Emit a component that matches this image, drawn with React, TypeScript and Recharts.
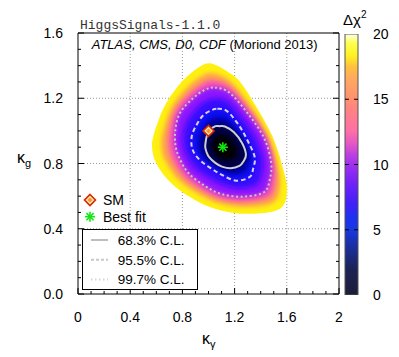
import React from "react";
import {
  ScatterChart,
  Scatter,
  XAxis,
  YAxis,
  CartesianGrid,
  Legend,
  ComposedChart,
  Bar,
} from "recharts";

type P = { x: number; y: number };
const pts = (a: number[][]): P[] => a.map(([x, y]) => ({ x, y }));

// level lines of the delta chi^2 map (kappa_gamma, kappa_g)
const chi20 = pts([
  [1.027, 1.412], [1.18, 1.345], [1.264, 1.277], [1.356, 1.161], [1.487, 0.971], [1.563, 0.793],
  [1.602, 0.639], [1.548, 0.523], [1.318, 0.492], [1.103, 0.511], [0.92, 0.566], [0.728, 0.67],
  [0.605, 0.793], [0.567, 0.915], [0.613, 1.056], [0.682, 1.179], [0.797, 1.302], [0.92, 1.387],
]);
const chi18 = pts([
  [1.036, 1.353], [1.172, 1.3], [1.335, 1.139], [1.462, 0.966], [1.53, 0.8], [1.549, 0.666],
  [1.499, 0.563], [1.297, 0.534], [1.103, 0.551], [0.941, 0.605], [0.775, 0.698], [0.675, 0.807],
  [0.639, 0.914], [0.667, 1.039], [0.723, 1.152], [0.829, 1.26], [0.939, 1.332],
]);
const chi15 = pts([
  [1.043, 1.309], [1.167, 1.267], [1.319, 1.122], [1.444, 0.962], [1.504, 0.806], [1.51, 0.687],
  [1.462, 0.594], [1.28, 0.565], [1.103, 0.581], [0.957, 0.633], [0.811, 0.719], [0.727, 0.819],
  [0.693, 0.913], [0.707, 1.026], [0.752, 1.132], [0.854, 1.229], [0.955, 1.291],
]);
// 99.7% C.L.
const cl997 = pts([
  [1.05, 1.265], [1.161, 1.234], [1.303, 1.105], [1.425, 0.958], [1.479, 0.811], [1.471, 0.707],
  [1.425, 0.624], [1.264, 0.597], [1.103, 0.612], [0.973, 0.662], [0.847, 0.741], [0.779, 0.83],
  [0.747, 0.912], [0.747, 1.013], [0.783, 1.112], [0.877, 1.197], [0.969, 1.25],
]);
const chi9 = pts([
  [1.059, 1.2], [1.152, 1.177], [1.268, 1.069], [1.364, 0.947], [1.417, 0.825], [1.408, 0.739],
  [1.37, 0.671], [1.238, 0.646], [1.103, 0.671], [1.002, 0.714], [0.901, 0.773], [0.839, 0.842],
  [0.809, 0.91], [0.81, 0.993], [0.844, 1.071], [0.917, 1.145], [0.994, 1.187],
]);
// 95.5% C.L.
const cl955 = pts([
  [1.068, 1.136], [1.142, 1.121], [1.234, 1.033], [1.303, 0.935], [1.354, 0.84], [1.343, 0.771],
  [1.315, 0.717], [1.211, 0.695], [1.103, 0.73], [1.03, 0.765], [0.955, 0.806], [0.898, 0.854],
  [0.871, 0.907], [0.873, 0.972], [0.904, 1.03], [0.956, 1.093], [1.018, 1.125],
]);
const chi4 = pts([
  [1.076, 1.082], [1.134, 1.074], [1.215, 1.012], [1.28, 0.931], [1.321, 0.847], [1.306, 0.792],
  [1.276, 0.751], [1.191, 0.733], [1.103, 0.755], [1.041, 0.785], [0.98, 0.822], [0.941, 0.863],
  [0.923, 0.904], [0.926, 0.955], [0.947, 1.001], [0.987, 1.052], [1.036, 1.077],
]);
// 68.3% C.L.
const cl683 = pts([
  [1.084, 1.029], [1.126, 1.027], [1.195, 0.992], [1.257, 0.926], [1.287, 0.855], [1.267, 0.812],
  [1.237, 0.785], [1.17, 0.771], [1.103, 0.781], [1.052, 0.804], [1.005, 0.839], [0.984, 0.872],
  [0.975, 0.901], [0.979, 0.937], [0.989, 0.973], [1.018, 1.01], [1.054, 1.029],
]);
const chi1 = pts([
  [1.094, 0.976], [1.12, 0.975], [1.161, 0.954], [1.198, 0.915], [1.217, 0.872], [1.205, 0.846],
  [1.186, 0.83], [1.146, 0.821], [1.107, 0.827], [1.076, 0.841], [1.048, 0.862], [1.034, 0.882],
  [1.029, 0.899], [1.032, 0.922], [1.038, 0.942], [1.055, 0.965], [1.077, 0.976],
]);

const smPoint = pts([[1.0, 1.0]]);
const bestFit = pts([[1.11, 0.9]]);

const xTicks = [0, 0.1, 0.2, 0.3, 0.4, 0.5, 0.6, 0.7, 0.8, 0.9, 1, 1.1, 1.2, 1.3, 1.4, 1.5, 1.6, 1.7, 1.8, 1.9, 2];
const yTicks = [0, 0.1, 0.2, 0.3, 0.4, 0.5, 0.6, 0.7, 0.8, 0.9, 1, 1.1, 1.2, 1.3, 1.4, 1.5, 1.6];
const xGrid = [0.4, 0.8, 1.2, 1.6];
const yGrid = [0.4, 0.8, 1.2];
const cbTicks = [0, 5, 10, 15, 20];
const cbRange = [{ name: "dchi2", top: 20 }];
const clLabels = ["68.3% C.L.", "95.5% C.L.", "99.7% C.L."];

// colour bar palette (delta chi^2, colour)
const cbStops: [number, string][] = [
  [0, "#1e1e38"], [2, "#1c2256"], [3, "#1a2a80"], [4, "#1a30b0"], [5, "#1638e0"],
  [6, "#2030f0"], [7, "#4020f8"], [8.5, "#7020f8"], [10, "#a030f0"], [10.8, "#c040e0"],
  [11.6, "#e458c4"], [12.6, "#ff70a4"], [14, "#ff8088"], [15, "#ff9070"], [16.5, "#ffa860"],
  [17.5, "#ffc040"], [18.3, "#fff020"], [19.3, "#ffff50"], [20, "#ffffe6"],
];

// filled regions, outermost first
const bands = [
  { id: "b20", data: chi20, fill: "#fff010" },
  { id: "b18", data: chi18, fill: "#ffa050" },
  { id: "b15", data: chi15, fill: "#f452b6" },
  { id: "b12", data: cl997, fill: "#8c14ff" },
  { id: "b9", data: chi9, fill: "#3a0cff" },
  { id: "b6", data: cl955, fill: "#0808f2" },
  { id: "b4", data: chi4, fill: "#0000a0" },
  { id: "b2", data: cl683, fill: "#000040" },
  { id: "b1", data: chi1, fill: "#000006" },
];

const FONT = "'Liberation Sans', Arial, sans-serif";

const isMajor = (v: number) => Math.abs(v * 2.5 - Math.round(v * 2.5)) < 1e-6;

function closedPath(p: P[]) {
  const n = p.length;
  let d = `M${p[0].x},${p[0].y}`;
  for (let i = 0; i < n; i++) {
    const p0 = p[(i - 1 + n) % n];
    const p1 = p[i];
    const p2 = p[(i + 1) % n];
    const p3 = p[(i + 2) % n];
    const c1x = p1.x + (p2.x - p0.x) / 6;
    const c1y = p1.y + (p2.y - p0.y) / 6;
    const c2x = p2.x - (p3.x - p1.x) / 6;
    const c2y = p2.y - (p3.y - p1.y) / 6;
    d += `C${c1x},${c1y} ${c2x},${c2y} ${p2.x},${p2.y}`;
  }
  return d + "Z";
}

const noDot = () => <g />;

const BottomTick = ({ x, y, payload }: any) => {
  const v = payload.value;
  const major = isMajor(v);
  return (
    <g>
      <line x1={x} y1={y} x2={x} y2={y - (major ? 6 : 3)} stroke="#000" />
      {major && (
        <text x={x} y={y + 28} textAnchor="middle" fontSize={14} fill="#000">
          {String(Number(v.toFixed(1)))}
        </text>
      )}
    </g>
  );
};

const LeftTick = ({ x, y, payload }: any) => {
  const v = payload.value;
  const major = isMajor(v);
  return (
    <g>
      <line x1={x} y1={y} x2={x + (major ? 6 : 3)} y2={y} stroke="#000" />
      {major && (
        <text x={x - 15} y={y + 5} textAnchor="end" fontSize={14} fill="#000">
          {v.toFixed(1)}
        </text>
      )}
    </g>
  );
};

const TopTick = ({ x, y, payload }: any) => (
  <line x1={x} y1={y} x2={x} y2={y + (isMajor(payload.value) ? 6 : 3)} stroke="#000" />
);

const RightTick = ({ x, y, payload }: any) => (
  <line x1={x} y1={y} x2={x - (isMajor(payload.value) ? 6 : 3)} y2={y} stroke="#000" />
);

const CbRightTick = ({ x, y, payload }: any) => {
  const v = payload.value;
  const inner = v > 0 && v < 20;
  return (
    <g>
      {inner && <line x1={x} y1={y} x2={x - 4} y2={y} stroke="#000" />}
      <text x={x + 15} y={y + 5} fontSize={14} fill="#000">
        {v}
      </text>
    </g>
  );
};

const CbLeftTick = ({ x, y, payload }: any) => {
  const v = payload.value;
  if (v <= 0 || v >= 20) return <g />;
  return <line x1={x} y1={y} x2={x + 4} y2={y} stroke="#000" />;
};

const SmMark = ({ cx, cy }: any) => (
  <g>
    <path
      d={`M${cx},${cy - 5.5}L${cx + 5.5},${cy}L${cx},${cy + 5.5}L${cx - 5.5},${cy}Z`}
      fill="#ffe6b0"
      stroke="#d42800"
      strokeWidth={1.6}
    />
    <path
      d={`M${cx},${cy - 2.5}L${cx + 2.5},${cy}L${cx},${cy + 2.5}L${cx - 2.5},${cy}Z`}
      fill="#ff9428"
    />
  </g>
);

const StarMark = ({ cx, cy }: any) => (
  <g stroke="#12e812" strokeWidth={1.6}>
    <line x1={cx - 5} y1={cy} x2={cx + 5} y2={cy} />
    <line x1={cx} y1={cy - 5} x2={cx} y2={cy + 5} />
    <line x1={cx - 3.6} y1={cy - 3.6} x2={cx + 3.6} y2={cy + 3.6} />
    <line x1={cx - 3.6} y1={cy + 3.6} x2={cx + 3.6} y2={cy - 3.6} />
  </g>
);

const clStyles = [
  { stroke: "#bdbdbd", dash: undefined },
  { stroke: "#c8c8c8", dash: "3 2" },
  { stroke: "#d6d6d6", dash: "1.5 2.5" },
];

const LegendBox = () => (
  <svg width={130} height={110} style={{ display: "block", fontFamily: FONT }}>
    <SmMark cx={12} cy={12} />
    <text x={25} y={17} fontSize={14} fill="#000">SM</text>
    <StarMark cx={12} cy={28.7} />
    <text x={25} y={33.7} fontSize={14} fill="#000">Best fit</text>
    <rect x={4.5} y={41.5} width={115} height={60} fill="#fff" stroke="#000" />
    {clLabels.map((lab, i) => {
      const cy = 52 + i * 19.7;
      return (
        <g key={lab}>
          <line
            x1={13}
            x2={30}
            y1={cy}
            y2={cy}
            stroke={clStyles[i].stroke}
            strokeWidth={2}
            strokeDasharray={clStyles[i].dash}
          />
          <text x={39.7} y={cy + 5} fontSize={13.5} fill="#000">{lab}</text>
        </g>
      );
    })}
  </svg>
);

export default function App() {
  return (
    <div style={{ position: "relative", width: 391, height: 349, fontFamily: FONT }}>
      <ScatterChart
        width={391}
        height={349}
        margin={{ top: 25, right: 60, bottom: 23, left: 10 }}
        style={{ fontFamily: FONT }}
      >
        <defs>
          <filter id="soft" x="-30%" y="-30%" width="160%" height="160%">
            <feGaussianBlur stdDeviation={2.2} />
          </filter>
        </defs>
        <CartesianGrid
          xAxisId="x"
          yAxisId="y"
          verticalValues={xGrid}
          horizontalValues={yGrid}
          stroke="#9a9a9a"
          strokeDasharray="1 2"
        />
        <XAxis
          xAxisId="x"
          dataKey="x"
          type="number"
          domain={[0, 2]}
          allowDataOverflow
          ticks={xTicks}
          interval={0}
          tickSize={0}
          tickMargin={0}
          tickLine={false}
          tick={BottomTick}
          axisLine={{ stroke: "#000" }}
          height={40}
        />
        <XAxis
          xAxisId="top"
          type="number"
          orientation="top"
          mirror
          domain={[0, 2]}
          allowDataOverflow
          ticks={xTicks}
          interval={0}
          tickSize={0}
          tickMargin={0}
          tickLine={false}
          tick={TopTick}
          axisLine={{ stroke: "#000" }}
        />
        <YAxis
          yAxisId="y"
          dataKey="y"
          type="number"
          domain={[0, 1.6]}
          allowDataOverflow
          ticks={yTicks}
          interval={0}
          tickSize={0}
          tickMargin={0}
          tickLine={false}
          tick={LeftTick}
          axisLine={{ stroke: "#000" }}
          width={60}
        />
        <YAxis
          yAxisId="right"
          type="number"
          orientation="right"
          mirror
          domain={[0, 1.6]}
          allowDataOverflow
          ticks={yTicks}
          interval={0}
          tickSize={0}
          tickMargin={0}
          tickLine={false}
          tick={RightTick}
          axisLine={{ stroke: "#000" }}
        />

        {bands.map((b, i) => (
          <Scatter
            key={b.id}
            name={b.id}
            data={b.data}
            xAxisId="x"
            yAxisId="y"
            isAnimationActive={false}
            shape={noDot}
            legendType="none"
            line={(lp: any) => {
              const d = closedPath(lp.points);
              if (i === 0) {
                return (
                  <g>
                    <defs>
                      <clipPath id="hmClip">
                        <path d={d} />
                      </clipPath>
                    </defs>
                    <path d={d} fill={b.fill} stroke="none" />
                  </g>
                );
              }
              return <path d={d} fill={b.fill} stroke="none" filter="url(#soft)" clipPath="url(#hmClip)" />;
            }}
          />
        ))}

        <Scatter
          name="99.7% C.L."
          data={cl997}
          xAxisId="x"
          yAxisId="y"
          isAnimationActive={false}
          shape={noDot}
          line={(lp: any) => (
            <path d={closedPath(lp.points)} fill="none" stroke="#c6c6c6" strokeWidth={2} strokeDasharray="2 2.6" />
          )}
        />
        <Scatter
          name="95.5% C.L."
          data={cl955}
          xAxisId="x"
          yAxisId="y"
          isAnimationActive={false}
          shape={noDot}
          line={(lp: any) => (
            <path d={closedPath(lp.points)} fill="none" stroke="#d4d4f4" strokeWidth={2} strokeDasharray="4.5 3" />
          )}
        />
        <Scatter
          name="68.3% C.L."
          data={cl683}
          xAxisId="x"
          yAxisId="y"
          isAnimationActive={false}
          shape={noDot}
          line={(lp: any) => (
            <path d={closedPath(lp.points)} fill="none" stroke="#cfcfcf" strokeWidth={2} />
          )}
        />
        <Scatter name="SM" data={smPoint} xAxisId="x" yAxisId="y" isAnimationActive={false} shape={SmMark} />
        <Scatter name="Best fit" data={bestFit} xAxisId="x" yAxisId="y" isAnimationActive={false} shape={StarMark} />

        <text x={72} y={21.3} fontFamily="'Liberation Mono', 'DejaVu Sans Mono', monospace" fontSize={13} fill="#333">
          HiggsSignals-1.1.0
        </text>
        <text x={83.7} y={41.3} fontSize={13} fill="#000">
          <tspan fontStyle="italic">ATLAS, CMS, D0, CDF</tspan>
          <tspan> (Moriond 2013)</tspan>
        </text>
        <text x={335} y={17} fontSize={15} fill="#000">
          Δχ<tspan fontSize={10} dy={-7}>2</tspan>
        </text>
        <text x={194} y={336} fontSize={16} fill="#000">
          κ<tspan fontSize={11} dy={4}>γ</tspan>
        </text>
        <text x={9} y={155} fontSize={16} fill="#000">
          κ<tspan fontSize={11} dy={4}>g</tspan>
        </text>

        <Legend
          layout="vertical"
          align="center"
          verticalAlign="middle"
          wrapperStyle={{ left: 70, top: 180, width: 130, height: 110 }}
          content={() => <LegendBox />}
        />
      </ScatterChart>

      <div style={{ position: "absolute", left: 333, top: 0 }}>
        <ComposedChart
          width={58}
          height={349}
          data={cbRange}
          margin={{ top: 26, right: 0, bottom: 62, left: 4 }}
          barCategoryGap={0}
        >
          <defs>
            <linearGradient id="cbGrad" x1="0" y1="1" x2="0" y2="0">
              {cbStops.map(([v, c]) => (
                <stop key={v} offset={v / 20} stopColor={c} />
              ))}
            </linearGradient>
          </defs>
          <XAxis dataKey="name" type="category" hide />
          <YAxis
            yAxisId="cb"
            type="number"
            orientation="right"
            domain={[0, 20]}
            allowDataOverflow
            ticks={cbTicks}
            interval={0}
            tickSize={0}
            tickMargin={0}
            tickLine={false}
            axisLine={false}
            tick={CbRightTick}
            width={41}
          />
          <YAxis
            yAxisId="cbl"
            type="number"
            orientation="left"
            mirror
            domain={[0, 20]}
            allowDataOverflow
            ticks={cbTicks}
            interval={0}
            tickSize={0}
            tickMargin={0}
            tickLine={false}
            axisLine={false}
            tick={CbLeftTick}
          />
          <Bar
            yAxisId="cb"
            dataKey="top"
            fill="url(#cbGrad)"
            stroke="#555"
            strokeWidth={1}
            isAnimationActive={false}
          />
        </ComposedChart>
      </div>
    </div>
  );
}
